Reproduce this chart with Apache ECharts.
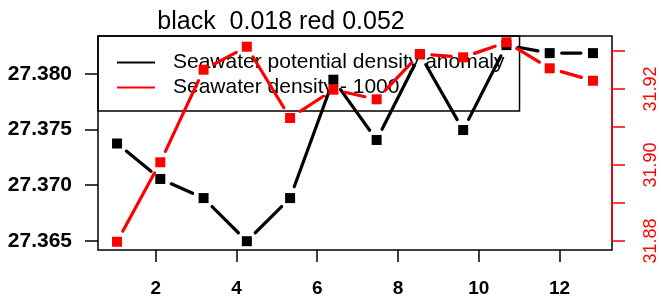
<!DOCTYPE html>
<html>
<head>
<meta charset="utf-8">
<script src="https://cdn.jsdelivr.net/npm/echarts@6/dist/echarts.min.js"></script>
<style>
  html, body { margin: 0; padding: 0; background: #fff; }
  #chart { width: 661px; height: 298px; }
</style>
</head>
<body>
<div id="chart"></div>
<script>
// data
var months = [1, 2, 3, 4, 5, 6, 7, 8, 9, 10, 11, 12];
var potDensity = [27.37375, 27.37056, 27.36884, 27.36496, 27.36884, 27.37949, 27.37407, 27.38177, 27.37496, 27.3826, 27.38188, 27.38188];
var density = [31.8798, 31.90071, 31.92508, 31.93113, 31.91237, 31.91982, 31.91729, 31.92921, 31.92834, 31.93229, 31.92545, 31.92218];
var xTicks = [2, 4, 6, 8, 10, 12];
var leftTicks = [27.365, 27.370, 27.375, 27.380];
var rightTicks = [31.88, 31.89, 31.90, 31.91, 31.92, 31.93];
var rightLabels = [31.88, 31.90, 31.92];
var titleText = 'black  0.018 red 0.052';

var FONT = '"Liberation Sans", Arial, sans-serif';
var chart = echarts.init(document.getElementById('chart'));

// R type="b": squares with line pieces that stop short of each point
function pointLine(ys, color) {
  var gap = 12;
  return function (params, api) {
    var i = params.dataIndex;
    var p = api.coord([months[i], ys[i]]);
    var kids = [];
    if (i < months.length - 1) {
      var q = api.coord([months[i + 1], ys[i + 1]]);
      var dx = q[0] - p[0], dy = q[1] - p[1];
      var len = Math.sqrt(dx * dx + dy * dy);
      if (len > 2 * gap) {
        var ux = dx / len, uy = dy / len;
        kids.push({
          type: 'line',
          shape: { x1: p[0] + ux * gap, y1: p[1] + uy * gap, x2: q[0] - ux * gap, y2: q[1] - uy * gap },
          style: { stroke: color, lineWidth: 3.2, lineCap: 'round' }
        });
      }
    }
    kids.push({
      type: 'rect',
      shape: { x: p[0] - 5, y: p[1] - 5, width: 10, height: 10 },
      style: { fill: color }
    });
    return { type: 'group', children: kids };
  };
}

var option = {
  animation: false,
  backgroundColor: '#fff',
  graphic: [{
    type: 'text',
    x: 281,
    y: 22,
    style: {
      text: titleText,
      font: '25px ' + FONT,
      fill: '#000',
      align: 'center',
      verticalAlign: 'middle',
      textAlign: 'center',
      textVerticalAlign: 'middle'
    }
  }],
  legend: {
    orient: 'vertical',
    left: 98,
    top: 36,
    z: 1,
    padding: [16, 15, 13, 19],
    itemWidth: 38,
    itemHeight: 2,
    itemGap: 4,
    icon: 'rect',
    borderColor: '#000',
    borderWidth: 1.5,
    selectedMode: false,
    textStyle: { fontFamily: FONT, fontSize: 21, color: '#000', padding: [0, 0, 0, 13] },
    data: ['Seawater potential density anomaly', 'Seawater density - 1000']
  },
  grid: {
    left: 98, right: 49, top: 36, bottom: 47,
    show: true,
    borderColor: '#000',
    borderWidth: 1.5,
    backgroundColor: 'transparent'
  },
  xAxis: [
    {
      type: 'value',
      min: 0.57,
      max: 13.3,
      position: 'bottom',
      splitLine: { show: false },
      axisLine: { show: false },
      axisTick: { show: true, length: 12, customValues: xTicks, lineStyle: { color: '#000', width: 1.5 } },
      axisLabel: {
        customValues: xTicks,
        fontFamily: FONT, fontWeight: 'bold', fontSize: 19, color: '#000', margin: 29
      }
    },
    { type: 'value', min: 0.56, max: 12.44, show: false }
  ],
  yAxis: [
    {
      type: 'value',
      min: 27.36417,
      max: 27.38342,
      position: 'left',
      splitLine: { show: false },
      axisLine: { show: false },
      axisTick: { show: true, length: 13, customValues: leftTicks, lineStyle: { color: '#000', width: 1.5 } },
      axisLabel: {
        customValues: leftTicks,
        formatter: function (v) { return v.toFixed(3); },
        fontFamily: FONT, fontWeight: 'bold', fontSize: 21, color: '#000', margin: 26
      }
    },
    {
      type: 'value',
      min: 31.87763,
      max: 31.93395,
      position: 'right',
      splitLine: { show: false },
      axisLine: { show: false },
      axisTick: { show: true, length: 13, customValues: rightTicks, lineStyle: { color: '#ff0000', width: 1.5 } },
      axisLabel: {
        customValues: rightLabels,
        rotate: 90,
        formatter: function (v) { return v.toFixed(2); },
        fontFamily: FONT, fontSize: 18, color: '#ff0000', margin: 30
      }
    }
  ],
  series: [
    {
      name: 'Seawater potential density anomaly',
      type: 'custom',
      xAxisIndex: 1,
      yAxisIndex: 0,
      z: 3,
      itemStyle: { color: '#000' },
      data: months.map(function (m, i) { return [m, potDensity[i]]; }),
      renderItem: pointLine(potDensity, '#000')
    },
    {
      name: 'Seawater density - 1000',
      type: 'custom',
      xAxisIndex: 1,
      yAxisIndex: 1,
      z: 4,
      itemStyle: { color: '#ff0000' },
      data: months.map(function (m, i) { return [m, density[i]]; }),
      renderItem: pointLine(density, '#ff0000')
    },
    {
      // red right axis line, from first to last tick
      type: 'custom',
      xAxisIndex: 1,
      yAxisIndex: 1,
      z: 5,
      silent: true,
      data: [[1, rightTicks[0]]],
      renderItem: function (params, api) {
        var cs = params.coordSys;
        var x = cs.x + cs.width;
        var a = api.coord([1, rightTicks[0]]);
        var b = api.coord([1, rightTicks[rightTicks.length - 1]]);
        return {
          type: 'line',
          shape: { x1: x, y1: a[1], x2: x, y2: b[1] },
          style: { stroke: '#ff0000', lineWidth: 1.5 }
        };
      }
    }
  ]
};
chart.setOption(option);
window.addEventListener('resize', function () { chart.resize(); });
</script>
</body>
</html>
